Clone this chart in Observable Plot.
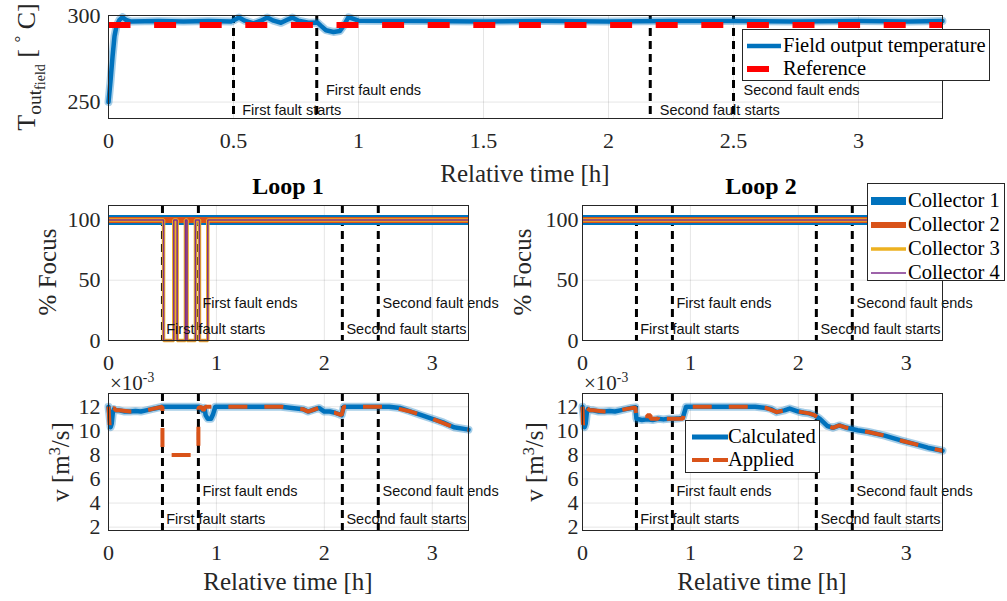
<!DOCTYPE html>
<html>
<head>
<meta charset="utf-8">
<script src="https://cdn.jsdelivr.net/npm/d3@7"></script>
<script src="https://cdn.jsdelivr.net/npm/@observablehq/plot@0.6"></script>
<style>
  body { margin: 0; background: #fff; }
  #chart { position: relative; width: 1007px; height: 601px; overflow: hidden; background: #fff;
           font-family: "Liberation Serif", "Times New Roman", serif; color: #262626; }
  #chart g[aria-label$="tick label"] text, #chart g[aria-label$="tick label"] { font-family: "Liberation Serif", "Times New Roman", serif; font-size: 22px; }
  .lbl { position: absolute; white-space: nowrap; line-height: 1; font-size: 25px; }
  .ctr { transform: translate(-50%, -50%); }
  .rot { transform: translate(-50%, -50%) rotate(-90deg); }
  .title { font-weight: bold; font-size: 24px; color: #000; }
  .legend { position: absolute; background: #fff; border: 1px solid #262626; box-sizing: border-box; }
  .legend svg { position: absolute; overflow: visible; }
  .legend span { position: absolute; font-size: 20.5px; color: #000; white-space: nowrap; line-height: 1; transform: translateY(-52%); }
  .sub1 { font-size: 0.75em; vertical-align: -0.28em; }
  .sub2 { font-size: 0.72em; vertical-align: -0.3em; }
  .sup { font-size: 0.65em; vertical-align: 0.55em; }
</style>
</head>
<body>
<div id="chart"></div>
<script>
// ---------- data ----------
const xMax = 3.336;
const xTicksTop = [0, 0.5, 1, 1.5, 2, 2.5, 3];
const xTicksLoop = [0, 1, 2, 3];
const yTicksTemp = [250, 300];
const yTicksFocus = [0, 50, 100];
const yTicksFlow = [2, 4, 6, 8, 10, 12];

const faultTimes = [0.5, 0.833, 2.167, 2.5];
const faultLabels = ["First fault starts", "First fault ends", "Second fault starts", "Second fault ends"];
const faultLabelX = [0.535, 0.87, 2.205, 2.54];
const faultLabelYTemp = [245.2, 256.7, 245.2, 256.7];
const faultLabelYFocus = [8.9, 31.2, 8.9, 31.2];
const faultLabelYFlow = [2.67, 5.0, 2.67, 5.0];

// Field output temperature [°C]
const timeT = [0, 0.008, 0.016, 0.024, 0.032, 0.044, 0.056, 0.07, 0.09, 0.2, 0.3, 0.4, 0.49, 0.505, 0.522, 0.545, 0.58, 0.61, 0.635, 0.66, 0.69, 0.715, 0.735, 0.76, 0.8, 0.835, 0.85, 0.87, 0.9, 0.925, 0.94, 0.96, 0.98, 1.0, 1.25, 1.5, 1.75, 2.0, 2.25, 2.5, 2.75, 3.0, 3.2, 3.336];
const tempOut = [250, 262, 276, 288, 294, 297.5, 299, 297.5, 296.5, 296.8, 296.5, 296.8, 296.5, 297.5, 298.8, 297, 295.5, 297, 298.8, 297, 295.8, 297.5, 298.8, 297, 295.8, 296, 294, 291.5, 290.5, 291, 294, 299, 298, 297, 296.8, 296.5, 296.8, 296.5, 296.8, 296.8, 296.5, 296.8, 296.5, 296.8];
const refTime = [0, 3.336];
const refTemp = [294.5, 294.5];

// % Focus
const focusTimeConst = [0, 3.336];
const focusConst = [100, 100];
const focusTimeLoop1 = [0, 0.51, 0.605, 0.636, 0.713, 0.728, 0.806, 0.843, 0.92, 3.336];
const focusLoop1C34 = [100, 0, 100, 0, 100, 0, 100, 0, 100, 100];

// Flow v [m^3/s] (x 1e-3)
const timeV1 = [0, 0.01, 0.02, 0.03, 0.04, 0.05, 0.07, 0.1, 0.15, 0.2, 0.25, 0.3, 0.35, 0.4, 0.45, 0.5, 0.6, 0.7, 0.8, 0.833, 0.85, 0.87, 0.89, 0.9, 0.92, 0.95, 0.97, 0.99, 1.0, 1.2, 1.4, 1.6, 1.7, 1.8, 1.85, 1.9, 1.95, 2.0, 2.05, 2.1, 2.16, 2.18, 2.2, 2.4, 2.6, 2.7, 2.8, 2.9, 3.0, 3.1, 3.2, 3.336];
const calcV1 = [12, 11.2, 10.3, 10.6, 11.5, 11.8, 11.7, 11.7, 11.6, 11.6, 11.65, 11.6, 11.7, 11.8, 11.9, 12, 12, 12, 12, 12, 11.95, 11.7, 11.9, 11.3, 11.0, 11.0, 11.4, 12, 12, 12, 12, 12, 11.9, 11.8, 11.6, 11.75, 11.9, 11.6, 11.6, 11.5, 11.3, 12, 12, 12, 12, 11.9, 11.6, 11.3, 11.0, 10.7, 10.3, 10.1];
const timeA1 = [0, 0.01, 0.02, 0.03, 0.05, 0.07, 0.1, 0.2, 0.3, 0.4, 0.5, 0.5, 0.833, 0.833, 0.86, 0.88, 0.9, 1.0, 1.2, 1.4, 1.6, 1.8, 1.85, 1.9, 1.95, 2.0, 2.1, 2.16, 2.18, 2.4, 2.6, 2.8, 3.0, 3.2, 3.336];
const appliedV1 = [12, 10.5, 10.8, 11.8, 11.9, 11.7, 11.7, 11.6, 11.6, 11.8, 12, 8, 8, 11.9, 12, 11.7, 12, 12, 12, 12, 12, 11.8, 11.6, 11.75, 11.9, 11.6, 11.5, 11.3, 12, 12, 12, 11.6, 11.0, 10.3, 10.1];

const timeV2 = [0, 0.01, 0.02, 0.03, 0.04, 0.05, 0.07, 0.1, 0.15, 0.2, 0.25, 0.3, 0.35, 0.4, 0.45, 0.49, 0.5, 0.55, 0.6, 0.65, 0.7, 0.75, 0.8, 0.85, 0.9, 0.93, 0.96, 1.0, 1.2, 1.4, 1.6, 1.7, 1.75, 1.8, 1.87, 1.92, 2.0, 2.05, 2.1, 2.15, 2.2, 2.27, 2.32, 2.38, 2.45, 2.55, 2.65, 2.8, 2.95, 3.1, 3.2, 3.336];
const calcV2 = [12, 11.2, 10.3, 10.6, 11.5, 11.8, 11.7, 11.7, 11.6, 11.6, 11.65, 11.6, 11.7, 11.8, 11.9, 11.95, 11.0, 10.9, 10.95, 10.9, 11.0, 10.95, 11.0, 11.0, 11.05, 11.1, 12, 12, 12, 12, 12, 11.9, 11.8, 11.55, 11.7, 11.85, 11.6, 11.5, 11.45, 11.3, 11.0, 10.4, 10.25, 10.45, 10.25, 10.05, 9.9, 9.6, 9.2, 8.85, 8.6, 8.35];
const timeA2 = [0, 0.005, 0.02, 0.04, 0.07, 0.1, 0.2, 0.3, 0.4, 0.49, 0.5, 0.6, 0.6, 0.63, 0.63, 0.7, 0.7, 0.73, 0.73, 0.93, 0.95, 1.0, 1.2, 1.4, 1.6, 1.7, 1.8, 1.87, 1.92, 2.0, 2.1, 2.15, 2.2, 2.27, 2.32, 2.38, 2.45, 2.55, 2.65, 2.8, 2.95, 3.1, 3.2, 3.336];
const appliedV2 = [12, 10.5, 10.8, 11.9, 11.7, 11.7, 11.6, 11.6, 11.8, 11.95, 11.0, 11.0, 11.3, 11.3, 11.0, 11.0, 11.4, 11.4, 11.0, 11.0, 12, 12, 12, 12, 12, 11.9, 11.55, 11.7, 11.85, 11.6, 11.45, 11.3, 11.0, 10.4, 10.25, 10.45, 10.25, 10.05, 9.9, 9.6, 9.2, 8.85, 8.6, 8.35];

// ---------- colours ----------
const C_BLUE = "#0072BD", C_ORANGE = "#D95319", C_YELLOW = "#EDB120", C_PURPLE = "#7E2F8E", C_RED = "#FF0000";

// ---------- helpers ----------
const chart = document.getElementById("chart");
const W = 1007;

function lineXY(times, values, opts) {
  return Plot.line(times, {x: d => d, y: (d, i) => values[i], ...opts});
}
const BUTT = {strokeLinecap: "butt", strokeLinejoin: "miter"};

function makePanel(o) {
  const svg = Plot.plot({
    width: W, height: o.height,
    marginLeft: o.left, marginRight: W - o.right,
    marginTop: o.frameTop - o.top, marginBottom: o.top + o.height - o.frameBottom,
    x: {domain: [0, xMax]},
    y: {domain: o.yDomain},
    style: {background: "transparent", fontFamily: "'Liberation Serif', 'Times New Roman', serif",
            fontSize: "22px", color: "#262626", overflow: "visible"},
    marks: [
      Plot.gridX(o.xTicks, {stroke: "#000", strokeOpacity: 0.1}),
      Plot.gridY(o.yTicks, {stroke: "#000", strokeOpacity: 0.1}),
      Plot.ruleX(faultTimes, {stroke: "#000", strokeWidth: 3, strokeDasharray: "8,5"}),
      ...o.marks,
      Plot.text(faultLabels, {x: (d, i) => faultLabelX[i], y: (d, i) => o.labelY[i], text: d => d,
        textAnchor: "start", fontFamily: "'Liberation Sans', Arial, sans-serif", fontSize: 14.5, fill: "#111"}),
      Plot.frame({stroke: "#262626", strokeWidth: 1}),
      Plot.axisX(o.xTicks, {tickSize: 0, tickPadding: o.xPad, tickFormat: d => String(d), label: null,
        fontFamily: "'Liberation Serif', 'Times New Roman', serif", fontSize: 22}),
      Plot.axisY(o.yTicks, {tickSize: 0, tickPadding: o.yPad, label: null,
        fontFamily: "'Liberation Serif', 'Times New Roman', serif", fontSize: 22})
    ]
  });
  svg.style.position = "absolute";
  svg.style.left = "0px";
  svg.style.top = o.top + "px";
  chart.appendChild(svg);
}

// ---------- top panel ----------
makePanel({
  top: 0, height: 160, left: 108, right: 942, frameTop: 15, frameBottom: 118,
  yDomain: [240.5, 300], xTicks: xTicksTop, yTicks: yTicksTemp, xPad: 14, yPad: 8,
  labelY: faultLabelYTemp,
  marks: [
    lineXY(timeT, tempOut, {stroke: C_BLUE, strokeOpacity: 0.35, strokeWidth: 8}),
    lineXY(timeT, tempOut, {stroke: C_BLUE, strokeWidth: 4.5}),
    lineXY(refTime, refTemp, {stroke: C_RED, strokeWidth: 6, strokeDasharray: "22,23.6", ...BUTT})
  ]
});

// ---------- focus panels ----------
function focusMarks(loop) {
  const c34 = loop === 1 ? [focusTimeLoop1, focusLoop1C34] : [focusTimeConst, focusConst];
  return [
    lineXY(focusTimeConst, focusConst, {stroke: C_BLUE, strokeWidth: 10, ...BUTT}),
    lineXY(focusTimeConst, focusConst, {stroke: C_ORANGE, strokeWidth: 6, ...BUTT}),
    lineXY(c34[0], c34[1], {stroke: C_YELLOW, strokeWidth: 3.5, curve: "step-after", ...BUTT}),
    lineXY(c34[0], c34[1], {stroke: C_PURPLE, strokeWidth: 1.5, curve: "step-after", ...BUTT})
  ];
}
makePanel({
  top: 190, height: 190, left: 108, right: 468, frameTop: 205, frameBottom: 340,
  yDomain: [0, 112], xTicks: xTicksLoop, yTicks: yTicksFocus, xPad: 14, yPad: 8,
  labelY: faultLabelYFocus, marks: focusMarks(1)
});
makePanel({
  top: 190, height: 190, left: 582, right: 942, frameTop: 205, frameBottom: 340,
  yDomain: [0, 112], xTicks: xTicksLoop, yTicks: yTicksFocus, xPad: 14, yPad: 4,
  labelY: faultLabelYFocus, marks: focusMarks(2)
});

// ---------- flow panels ----------
function flowMarks(tc, vc, ta, va) {
  return [
    lineXY(tc, vc, {stroke: C_BLUE, strokeOpacity: 0.35, strokeWidth: 8}),
    lineXY(tc, vc, {stroke: C_BLUE, strokeWidth: 4.5}),
    lineXY(ta, va, {stroke: C_ORANGE, strokeWidth: 4, strokeDasharray: "19,17", ...BUTT})
  ];
}
makePanel({
  top: 378, height: 192, left: 108, right: 468, frameTop: 393, frameBottom: 530,
  yDomain: [1.72, 13.1], xTicks: xTicksLoop, yTicks: yTicksFlow, xPad: 14, yPad: 8,
  labelY: faultLabelYFlow, marks: flowMarks(timeV1, calcV1, timeA1, appliedV1)
});
makePanel({
  top: 378, height: 192, left: 582, right: 942, frameTop: 393, frameBottom: 530,
  yDomain: [1.72, 13.1], xTicks: xTicksLoop, yTicks: yTicksFlow, xPad: 14, yPad: 4,
  labelY: faultLabelYFlow, marks: flowMarks(timeV2, calcV2, timeA2, appliedV2)
});

// ---------- labels ----------
function addLabel(html, x, y, cls, extraStyle) {
  const d = document.createElement("div");
  d.className = "lbl " + cls;
  d.style.left = x + "px";
  d.style.top = y + "px";
  if (extraStyle) Object.assign(d.style, extraStyle);
  d.innerHTML = html;
  chart.appendChild(d);
}
addLabel('T<span class="sub1">out<span class="sub2">field</span></span> [ <span class="sup">°</span> C]', 30, 67, "rot", {fontSize: "26px"});
addLabel("Relative time [h]", 525, 173, "ctr");
addLabel("Loop 1", 288, 186, "ctr title");
addLabel("Loop 2", 761, 186, "ctr title");
addLabel("% Focus", 47, 272, "rot");
addLabel("% Focus", 522, 272, "rot");
addLabel('×10<span class="sup">-3</span>', 110, 371, "", {fontSize: "21px"});
addLabel('×10<span class="sup">-3</span>', 584, 371, "", {fontSize: "21px"});
addLabel('v [m<span class="sup">3</span>/s]', 60, 462, "rot");
addLabel('v [m<span class="sup">3</span>/s]', 534, 462, "rot");
addLabel("Relative time [h]", 288, 581, "ctr");
addLabel("Relative time [h]", 762, 581, "ctr");

// ---------- legends ----------
function addLegend(box, items) {
  const lg = document.createElement("div");
  lg.className = "legend";
  Object.assign(lg.style, {left: box.left + "px", top: box.top + "px", width: box.width + "px", height: box.height + "px"});
  items.forEach(it => {
    const svgNS = "http://www.w3.org/2000/svg";
    const s = document.createElementNS(svgNS, "svg");
    s.setAttribute("width", 1); s.setAttribute("height", 1);
    s.style.left = "0px"; s.style.top = it.y + "px";
    const ln = document.createElementNS(svgNS, "line");
    ln.setAttribute("x1", box.x0); ln.setAttribute("x2", box.x1);
    ln.setAttribute("y1", 0); ln.setAttribute("y2", 0);
    ln.setAttribute("stroke", it.color); ln.setAttribute("stroke-width", it.width);
    if (it.dash) ln.setAttribute("stroke-dasharray", it.dash);
    s.appendChild(ln);
    lg.appendChild(s);
    const sp = document.createElement("span");
    sp.textContent = it.label;
    sp.style.left = box.tx + "px"; sp.style.top = it.y + "px";
    lg.appendChild(sp);
  });
  chart.appendChild(lg);
}
const legendTempLabels = ["Field output temperature", "Reference"];
addLegend({left: 742, top: 29, width: 248, height: 52, x0: 4, x1: 38, tx: 40},
  [{label: legendTempLabels[0], y: 16, color: C_BLUE, width: 4.5},
   {label: legendTempLabels[1], y: 39, color: C_RED, width: 6, dash: "22,30"}]);
const legendCollectorLabels = ["Collector 1", "Collector 2", "Collector 3", "Collector 4"];
addLegend({left: 867, top: 183, width: 138, height: 98, x0: 3, x1: 38, tx: 40},
  [{label: legendCollectorLabels[0], y: 17, color: C_BLUE, width: 8},
   {label: legendCollectorLabels[1], y: 41, color: C_ORANGE, width: 6},
   {label: legendCollectorLabels[2], y: 65, color: C_YELLOW, width: 3.5},
   {label: legendCollectorLabels[3], y: 89, color: C_PURPLE, width: 1.5}]);
const legendFlowLabels = ["Calculated", "Applied"];
addLegend({left: 685, top: 420, width: 135, height: 53, x0: 6, x1: 42, tx: 42},
  [{label: legendFlowLabels[0], y: 16, color: C_BLUE, width: 5},
   {label: legendFlowLabels[1], y: 39, color: C_ORANGE, width: 4, dash: "17,4"}]);
</script>
</body>
</html>
